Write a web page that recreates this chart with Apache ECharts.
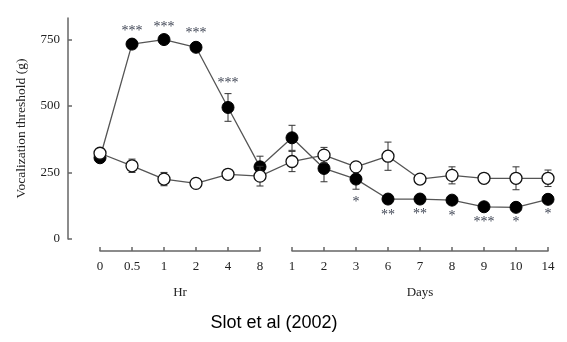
<!DOCTYPE html>
<html>
<head>
<meta charset="utf-8">
<script src="https://cdn.jsdelivr.net/npm/echarts@6/dist/echarts.min.js"></script>
<style>
html,body{margin:0;padding:0;background:#fff;}
#c{width:567px;height:342px;}
</style>
</head>
<body>
<div id="c"></div>
<script>
// ---- data ----
var hrLabels = ['0', '0.5', '1', '2', '4', '8'];
var dayLabels = ['1', '2', '3', '6', '7', '8', '9', '10', '14'];
var filledVals = [305, 732, 749, 720, 494, 271, 380, 265, 225, 150, 150, 146, 121, 119, 149];
var filledErr  = [8, 10, 8, 15, 52, 40, 47, 50, 38, 12, 10, 12, 8, 8, 8];
var openVals   = [322, 275, 225, 209, 243, 236, 291, 315, 271, 311, 225, 239, 228, 228, 228];
var openErr    = [10, 25, 25, 8, 15, 37, 38, 29, 12, 53, 10, 32, 12, 43, 31];
var sigLabels  = ['', '***', '***', '***', '***', '', '', '', '*', '**', '**', '*', '***', '*', '*'];
var sigAbove   = [true, true, true, true, true, true, false, false, false, false, false, false, false, false, false];
var yTicks = [0, 250, 500, 750];

var allCats = hrLabels.concat(dayLabels).map(function (l, i) { return String(i); });

var chart = echarts.init(document.getElementById('c'), null, {renderer: 'canvas'});
var serif = '"Liberation Serif", "DejaVu Serif", serif';

function errRender(vals, errs) {
  return function (params, api) {
    var i = api.value(0);
    var hi = api.coord([i, vals[i] + errs[i]]);
    var lo = api.coord([i, vals[i] - errs[i]]);
    var cw = 3.5;
    var st = {stroke: '#333', lineWidth: 1};
    return {
      type: 'group',
      children: [
        {type: 'line', shape: {x1: hi[0], y1: hi[1], x2: lo[0], y2: lo[1]}, style: st},
        {type: 'line', shape: {x1: hi[0] - cw, y1: hi[1], x2: hi[0] + cw, y2: hi[1]}, style: st},
        {type: 'line', shape: {x1: lo[0] - cw, y1: lo[1], x2: lo[0] + cw, y2: lo[1]}, style: st}
      ]
    };
  };
}

var idx = filledVals.map(function (v, i) { return [i]; });
var labelStyle = {fontFamily: serif, fontSize: 13, color: '#222'};

var option = {
  animation: false,
  backgroundColor: '#fff',
  title: {
    text: 'Slot et al (2002)',
    left: 269, top: 309, textAlign: 'center',
    textStyle: {fontFamily: '"Liberation Sans", Arial, sans-serif', fontSize: 18, fontWeight: 'normal', color: '#000'}
  },
  grid: [
    {left: 100, right: 19, top: 18, bottom: 103},
    {left: 100, width: 160, top: 250, height: 1},
    {left: 292, width: 256, top: 250, height: 1}
  ],
  xAxis: [
    {gridIndex: 0, type: 'category', data: allCats, boundaryGap: false, show: false},
    {gridIndex: 1, type: 'category', data: hrLabels, boundaryGap: false, position: 'bottom',
     name: 'Hr', nameLocation: 'middle', nameGap: 35,
     nameTextStyle: labelStyle,
     axisLine: {lineStyle: {color: '#666', width: 1.5}},
     axisTick: {inside: true, length: 4, alignWithLabel: true, lineStyle: {color: '#666', width: 1.5}},
     axisLabel: Object.assign({margin: 9, interval: 0}, labelStyle)},
    {gridIndex: 2, type: 'category', data: dayLabels, boundaryGap: false, position: 'bottom',
     name: 'Days', nameLocation: 'middle', nameGap: 35,
     nameTextStyle: labelStyle,
     axisLine: {lineStyle: {color: '#666', width: 1.5}},
     axisTick: {inside: true, length: 4, alignWithLabel: true, lineStyle: {color: '#666', width: 1.5}},
     axisLabel: Object.assign({margin: 9, interval: 0}, labelStyle)}
  ],
  yAxis: [
    {gridIndex: 0, type: 'value', min: 0, max: 830, interval: 250, offset: 32,
     name: 'Vocalization threshold (g)', nameLocation: 'middle', nameGap: 40, nameRotate: 90,
     nameTextStyle: {fontFamily: serif, fontSize: 13.5, color: '#222'},
     splitLine: {show: false},
     axisLine: {show: true, lineStyle: {color: '#666', width: 1.5}},
     axisTick: {show: true, inside: true, length: 4, customValues: yTicks, lineStyle: {color: '#666', width: 1.5}},
     axisLabel: Object.assign({margin: 8, customValues: yTicks}, labelStyle)},
    {gridIndex: 1, type: 'value', show: false},
    {gridIndex: 2, type: 'value', show: false}
  ],
  series: [
    {type: 'line', name: 'filled', xAxisIndex: 0, yAxisIndex: 0, data: filledVals,
     symbol: 'circle', symbolSize: 12,
     lineStyle: {color: '#555', width: 1.3},
     itemStyle: {color: '#000', borderColor: '#000', borderWidth: 1}, z: 3},
    {type: 'custom', xAxisIndex: 0, yAxisIndex: 0, data: idx, renderItem: errRender(filledVals, filledErr), z: 2},
    {type: 'line', name: 'open', xAxisIndex: 0, yAxisIndex: 0, data: openVals,
     symbol: 'circle', symbolSize: 12,
     lineStyle: {color: '#555', width: 1.3},
     itemStyle: {color: '#fff', borderColor: '#111', borderWidth: 1.3}, z: 5},
    {type: 'custom', xAxisIndex: 0, yAxisIndex: 0, data: idx, renderItem: errRender(openVals, openErr), z: 4},
    {type: 'custom', xAxisIndex: 0, yAxisIndex: 0, data: idx, z: 6,
     renderItem: function (params, api) {
       var i = api.value(0);
       if (!sigLabels[i]) return null;
       var up = sigAbove[i];
       var p = api.coord([i, up ? filledVals[i] + filledErr[i] : filledVals[i] - filledErr[i]]);
       return {
         type: 'text',
         style: {
           text: sigLabels[i], x: p[0], y: up ? p[1] - 3 : p[1] + 6,
           align: 'center', verticalAlign: up ? 'bottom' : 'top',
           font: '14px ' + serif, fill: '#3d4352'
         }
       };
     }}
  ]
};
chart.setOption(option);
</script>
</body>
</html>
